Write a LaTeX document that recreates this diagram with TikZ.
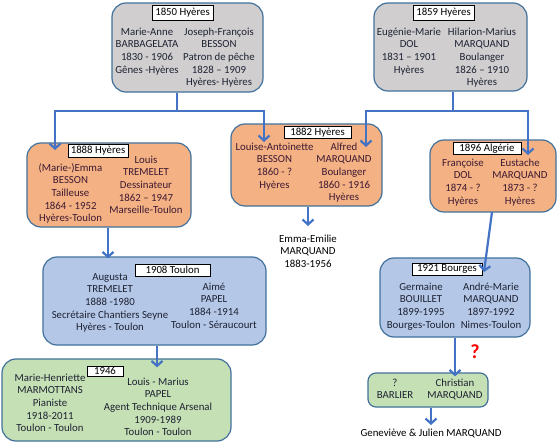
\documentclass[tikz,border=0pt]{standalone}
\usepackage{fontspec}
\setmainfont{Carlito}
\usetikzlibrary{arrows.meta}
\definecolor{cGrey}{HTML}{D0CECE}
\definecolor{cOrange}{HTML}{F4B183}
\definecolor{cBlue}{HTML}{B4C7E7}
\definecolor{cGreen}{HTML}{C5E0B4}
\definecolor{cEdge}{HTML}{41719C}
\definecolor{cConn}{HTML}{4472C4}
\definecolor{tDark}{HTML}{1E2233}
\definecolor{tOr}{HTML}{3D1A33}
\newcommand\myst{\rule{0pt}{9pt}}
\begin{document}
\begin{tikzpicture}[x=1pt,y=-1pt,
  fam/.style={draw=cEdge, line width=1.2pt, rounded corners=14pt, inner sep=0pt},
  lbl/.style={draw=black, fill=white, line width=0.7pt, inner sep=0pt, font=\fontsize{10.8}{12}\selectfont},
  col/.style={anchor=north, align=center, inner sep=0pt, font=\fontsize{10.8}{12.6}\selectfont},
  free/.style={align=center, inner sep=0pt, font=\fontsize{10.8}{12.6}\selectfont},
  ln/.style={draw=cConn, line width=2.2pt},
  arr/.style={draw=cConn, line width=2.2pt, -{Straight Barb[length=5pt,width=11pt]}}]
\fill[white] (0,0) rectangle (558,447);
\useasboundingbox (0,0) rectangle (558,447);

% family boxes
\node[fam, fill=cGrey, minimum width=151pt, minimum height=89pt] (b1850) at (187.5,47.5) {};
\node[fam, fill=cGrey, minimum width=153pt, minimum height=88pt] (b1859) at (450.5,47) {};
\node[fam, fill=cOrange, minimum width=164pt, minimum height=84pt] (b1888) at (109,185) {};
\node[fam, fill=cOrange, minimum width=151pt, minimum height=82pt] (b1882) at (306.5,165) {};
\node[fam, fill=cOrange, minimum width=126pt, minimum height=72pt] (b1896) at (493,176) {};
\node[fam, fill=cBlue, minimum width=223pt, minimum height=88pt] (b1908) at (154.5,301) {};
\node[fam, fill=cBlue, minimum width=150pt, minimum height=79pt] (b1921) at (455,297.5) {};
\node[fam, fill=cGreen, minimum width=229pt, minimum height=82pt] (b1946) at (116.5,400) {};
\node[fam, fill=cGreen, rounded corners=8pt, minimum width=120pt, minimum height=34pt] (bchr) at (428,390) {};

% labels
\node[lbl, minimum width=61pt, minimum height=15pt] (l1850) at (182.5,12.5) {1850 Hyères};
\node[lbl, minimum width=61pt, minimum height=15pt] (l1859) at (443.5,12.5) {1859 Hyères};
\node[lbl, minimum width=60pt, minimum height=13pt] (l1888) at (98,150.5) {1888 Hyères};
\node[lbl, minimum width=67pt, minimum height=12pt] (l1882) at (317.5,132.5) {1882 Hyères};
\node[lbl, minimum width=68pt, minimum height=12pt] (l1896) at (487,148.5) {1896 Algérie};
\node[lbl, minimum width=75pt, minimum height=12pt] (l1908) at (172.5,270) {1908 Toulon};
\node[lbl, minimum width=70pt, minimum height=12pt] (l1921) at (447,269) {1921 Bourges};
\node[lbl, minimum width=36pt, minimum height=10pt] (l1946) at (105,371) {1946};

% people
\node[col, text=tDark] (p1850a) at (147,26) {\myst Marie-Anne\\BARBAGELATA\\1830 - 1906\\Gênes -Hyères};
\node[col, text=tDark] (p1850b) at (219,26) {\myst Joseph-François\\BESSON\\Patron de pêche\\1828 – 1909\\Hyères- Hyères};
\node[col, text=tDark] (p1859a) at (409,26) {\myst Eugénie-Marie\\DOL\\1831 – 1901\\Hyères};
\node[col, text=tDark] (p1859b) at (482,26) {\myst Hilarion-Marius\\MARQUAND\\Boulanger\\1826 – 1910\\Hyères};
\node[col, text=tOr] (p1888a) at (70.5,162) {\myst (Marie-)Emma\\BESSON\\Tailleuse\\1864 - 1952\\Hyères-Toulon};
\node[col, text=tOr] (p1888b) at (146,154) {\myst Louis\\TREMELET\\Dessinateur\\1862 – 1947\\Marseille-Toulon};
\node[col, text=tOr] (p1882a) at (274.5,141) {\myst Louise-Antoinette\\BESSON\\1860 - ?\\Hyères};
\node[col, text=tOr] (p1882b) at (344,141) {\myst Alfred\\MARQUAND\\Boulanger\\1860 - 1916\\Hyères};
\node[col, text=tOr] (p1896a) at (463,157) {\myst Françoise\\DOL\\1874 - ?\\Hyères};
\node[col, text=tOr] (p1896b) at (520,157) {\myst Eustache\\MARQUAND\\1873 - ?\\Hyères};
\node[col, text=tDark] (p1908a) at (110,271) {\myst Augusta\\TREMELET\\1888 -1980\\Secrétaire Chantiers Seyne\\Hyères - Toulon};
\node[col, text=tDark] (p1908b) at (214,281) {\myst Aimé\\PAPEL\\1884 -1914\\Toulon - Séraucourt};
\node[col, text=tDark] (p1921a) at (421,281) {\myst Germaine\\BOUILLET\\1899-1995\\Bourges-Toulon};
\node[col, text=tDark] (p1921b) at (491,281) {\myst André-Marie\\MARQUAND\\1897-1992\\Nimes-Toulon};
\node[col, text=tDark] (p1946a) at (50,372) {\myst Marie-Henriette\\MARMOTTANS\\Pianiste\\1918-2011\\Toulon - Toulon};
\node[col, text=tDark] (p1946b) at (158,376) {\myst Louis - Marius\\PAPEL\\Agent Technique Arsenal\\1909-1989\\Toulon - Toulon};
\node[col, text=tDark] (pchra) at (395,377) {\myst ?\\BARLIER};
\node[col, text=tDark] (pchrb) at (455,377) {\myst Christian\\MARQUAND};

\node[col, text=black] (emma) at (308,233) {\myst Emma-Emilie\\MARQUAND\\1883-1956};
\node[col, text=black] (gen) at (431,427) {\myst Geneviève \& Julien MARQUAND};
\node[text=red, inner sep=0pt, font=\fontsize{20}{20}\selectfont\bfseries] (q) at (475,352) {?};

% connector points
\coordinate (j1) at (177,111);
\coordinate (t1888) at (55,150);
\coordinate (t1882a) at (264,142);
\coordinate (j2) at (453,111);
\coordinate (t1882b) at (366,147);
\coordinate (t1896) at (528,155);
\coordinate (s1896) at (492,212);
\coordinate (t1921) at (484,272);

\draw[ln] (b1850.south -| j1) -- (j1);
\draw[arr] (j1) -| (t1888);
\draw[arr] (j1) -| (t1882a);
\draw[ln] (b1859.south -| j2) -- (j2);
\draw[arr] (j2) -| (t1882b);
\draw[arr] (j2) -| (t1896);

\draw[arr] (b1888.south -| 108,0) -- ([yshift=-2pt]b1908.north -| 108,0);
\draw[arr] (b1882.south -| emma) -- ([yshift=7pt]emma.north);
\draw[arr] (s1896) -- (t1921);
\draw[arr] (b1908.south -| 157,0) -- ([yshift=-9pt]b1946.north -| 157,0);
\draw[arr] (b1921.south -| 455,0) -- ([yshift=-4pt]bchr.north -| 455,0);
\draw[arr] (bchr.south -| gen) -- ([yshift=2pt]gen.north);
\end{tikzpicture}
\end{document}
